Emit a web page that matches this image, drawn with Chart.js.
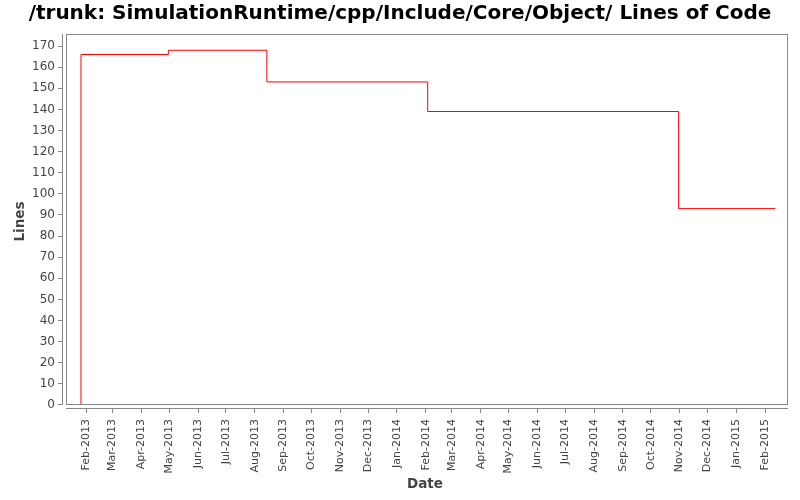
<!DOCTYPE html>
<html>
<head>
<meta charset="utf-8">
<script src="https://cdn.jsdelivr.net/npm/chart.js@4"></script>
<style>
html,body{margin:0;padding:0;background:#fff;}
#wrap{width:800px;height:500px;}
</style>
</head>
<body>
<div id="wrap"><canvas id="c" width="800" height="500"></canvas></div>
<script>
// ---- data ----
const titleText = "/trunk: SimulationRuntime/cpp/Include/Core/Object/ Lines of Code";
const dates = ["2013-01-26", "2013-01-26", "2013-04-30", "2013-08-14", "2014-02-03", "2014-10-31", "2015-02-12"];
const lines = [0, 166, 168, 153, 139, 93, 93];
const yTicks = [0,10,20,30,40,50,60,70,80,90,100,110,120,130,140,150,160,170];
const monthNames = ["Jan","Feb","Mar","Apr","May","Jun","Jul","Aug","Sep","Oct","Nov","Dec"];
const xStart = "2013-01-05T14:00:00Z";
const xEnd = "2015-02-25T16:00:00Z";
const firstTickMonth = [2013, 1]; // Feb 2013 (0-based month)
const lastTickMonth = [2015, 1];  // Feb 2015

function ts(s){ return new Date(s.length === 10 ? s + "T00:00:00Z" : s).getTime(); }
const points = dates.map((d,i)=>({x: ts(d), y: lines[i]}));

const monthTicks = [];
{
  let y = firstTickMonth[0], m = firstTickMonth[1];
  while (y < lastTickMonth[0] || (y === lastTickMonth[0] && m <= lastTickMonth[1])) {
    monthTicks.push(Date.UTC(y, m, 1));
    m++; if (m > 11) { m = 0; y++; }
  }
}
function fmtMonth(v){ const d = new Date(v); return monthNames[d.getUTCMonth()] + "-" + d.getUTCFullYear(); }

const GAP = 4;
const frame = {
  id: 'frame',
  afterDraw(chart){
    const {ctx, chartArea:a} = chart;
    ctx.save();
    ctx.strokeStyle = '#888888';
    ctx.lineWidth = 1;
    ctx.strokeRect(a.left + GAP + 0.5, a.top + 0.5, a.right - a.left - GAP - 1, a.bottom - a.top - GAP - 1);
    ctx.beginPath();
    ctx.moveTo(a.left + 0.5, a.top);
    ctx.lineTo(a.left + 0.5, a.bottom - GAP);
    ctx.stroke();
    ctx.beginPath();
    ctx.moveTo(a.left + GAP, a.bottom - 0.5);
    ctx.lineTo(a.right, a.bottom - 0.5);
    ctx.stroke();
    ctx.restore();
  }
};

new Chart(document.getElementById('c'), {
  type: 'line',
  data: {
    datasets: [{
      data: points,
      borderColor: '#ff0000',
      borderWidth: 1,
      pointRadius: 0,
      stepped: 'before',
      fill: false
    }]
  },
  options: {
    responsive: false,
    animation: false,
    events: [],
    layout: { padding: 0 },
    plugins: {
      legend: { display: false },
      tooltip: { enabled: false },
      title: {
        display: true,
        text: titleText,
        color: '#000000',
        font: { family: 'DejaVu Sans', size: 20, weight: 'bold', lineHeight: 1.2 },
        padding: { top: 2, bottom: 8 }
      }
    },
    scales: {
      x: {
        type: 'linear',
        min: ts(xStart),
        max: ts(xEnd),
        border: { display: false },
        grid: { display: true, drawOnChartArea: false, drawTicks: true, tickLength: 4, color: '#888888' },
        afterBuildTicks(scale){ scale.ticks = monthTicks.map(v=>({value:v})); },
        afterFit(scale){ scale.height = 91; },
        ticks: {
          callback: (v)=>fmtMonth(v),
          minRotation: 90, maxRotation: 90,
          autoSkip: false,
          padding: 6,
          color: '#444444',
          font: { family: 'DejaVu Sans', size: 11 }
        },
        title: {
          display: true, text: 'Date', color: '#444444',
          font: { family: 'DejaVu Sans', size: 13.5, weight: 'bold', lineHeight: 1.2 },
          padding: { top: 0, bottom: 7 }
        }
      },
      y: {
        type: 'linear',
        min: -1.9,
        max: 175.7,
        border: { display: false },
        grid: { display: true, drawOnChartArea: false, drawTicks: true, tickLength: 4, color: '#888888' },
        afterBuildTicks(scale){ scale.ticks = yTicks.map(v=>({value:v})); },
        afterFit(scale){ scale.width = 62; },
        ticks: {
          padding: 3,
          color: '#444444',
          font: { family: 'DejaVu Sans', size: 12 }
        },
        title: {
          display: true, text: 'Lines', color: '#444444',
          font: { family: 'DejaVu Sans', size: 13.5, weight: 'bold', lineHeight: 1.2 },
          padding: { top: 12, bottom: 0 }
        }
      },
      rightSpacer: {
        type: 'linear',
        position: 'right',
        display: true,
        border: { display: false },
        grid: { display: false, drawTicks: false },
        ticks: { display: false },
        afterFit(scale){ scale.width = 12; }
      }
    }
  },
  plugins: [frame]
});
</script>
</body>
</html>
